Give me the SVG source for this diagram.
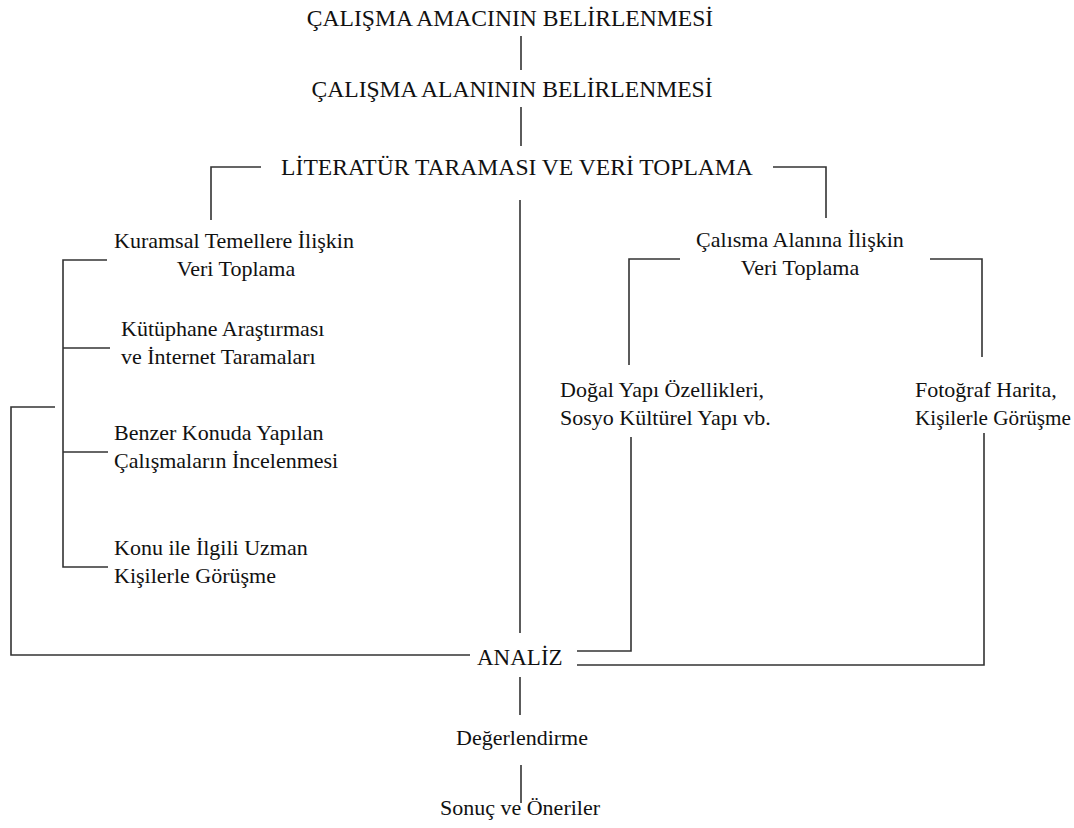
<svg xmlns="http://www.w3.org/2000/svg" width="1074" height="828" viewBox="0 0 1074 828">
<style>
text{font-family:'Liberation Serif','DejaVu Serif',serif;fill:#111}
.t{font-size:23.6px}
.s{font-size:22px}
.c{text-anchor:middle}
.ln{fill:none;stroke:#333;stroke-width:1.6}
</style>
<rect width="1074" height="828" fill="#fff"/>
<g id="connectors" class="ln">
<path d="M521 36V70"/>
<path d="M521 107V146"/>
<path d="M261 167H211V220"/>
<path d="M773 167H826V218"/>
<path d="M520 200V633"/>
<path d="M107 260H63V567H108"/>
<path d="M63 348H110"/>
<path d="M63 452H108"/>
<path d="M55 407H11V655H470"/>
<path d="M680 259H629V365"/>
<path d="M930 259H982V357"/>
<path d="M631 437V651H577"/>
<path d="M984 433V665H577"/>
<path d="M520 677V715"/>
<path d="M521 765V803"/>
</g>
<g font-family="Liberation Serif, DejaVu Serif, serif">
<g id="n1"><text class="t c" x="510" y="26">ÇALIŞMA AMACININ BELİRLENMESİ</text></g>
<g id="n2"><text class="t c" x="512" y="97">ÇALIŞMA ALANININ BELİRLENMESİ</text></g>
<g id="n3"><text class="t c" x="517" y="175">LİTERATÜR TARAMASI VE VERİ TOPLAMA</text></g>
<g id="n4"><text class="s c" x="234" y="248">Kuramsal Temellere İlişkin</text><text class="s c" x="236" y="276">Veri Toplama</text></g>
<g id="n5"><text class="s" x="121" y="336">Kütüphane Araştırması</text><text class="s" x="121" y="364">ve İnternet Taramaları</text></g>
<g id="n6"><text class="s" x="114" y="440">Benzer Konuda Yapılan</text><text class="s" x="114" y="468">Çalışmaların İncelenmesi</text></g>
<g id="n7"><text class="s" x="114" y="555">Konu ile İlgili Uzman</text><text class="s" x="114" y="583">Kişilerle Görüşme</text></g>
<g id="n8"><text class="s c" x="800" y="247">Çalısma Alanına İlişkin</text><text class="s c" x="800" y="275">Veri Toplama</text></g>
<g id="n9"><text class="s" x="560" y="397">Doğal Yapı Özellikleri,</text><text class="s" x="560" y="425">Sosyo Kültürel Yapı vb.</text></g>
<g id="n10"><text class="s" x="915" y="397">Fotoğraf Harita,</text><text class="s" x="915" y="425" style="font-size:21.2px">Kişilerle Görüşme</text></g>
<g id="n11"><text class="t" x="477" y="665" style="font-size:23px">ANALİZ</text></g>
<g id="n12"><text class="s c" x="522" y="745">Değerlendirme</text></g>
<g id="n13"><text class="s c" x="520" y="815">Sonuç ve Öneriler</text></g>
</g>
</svg>
